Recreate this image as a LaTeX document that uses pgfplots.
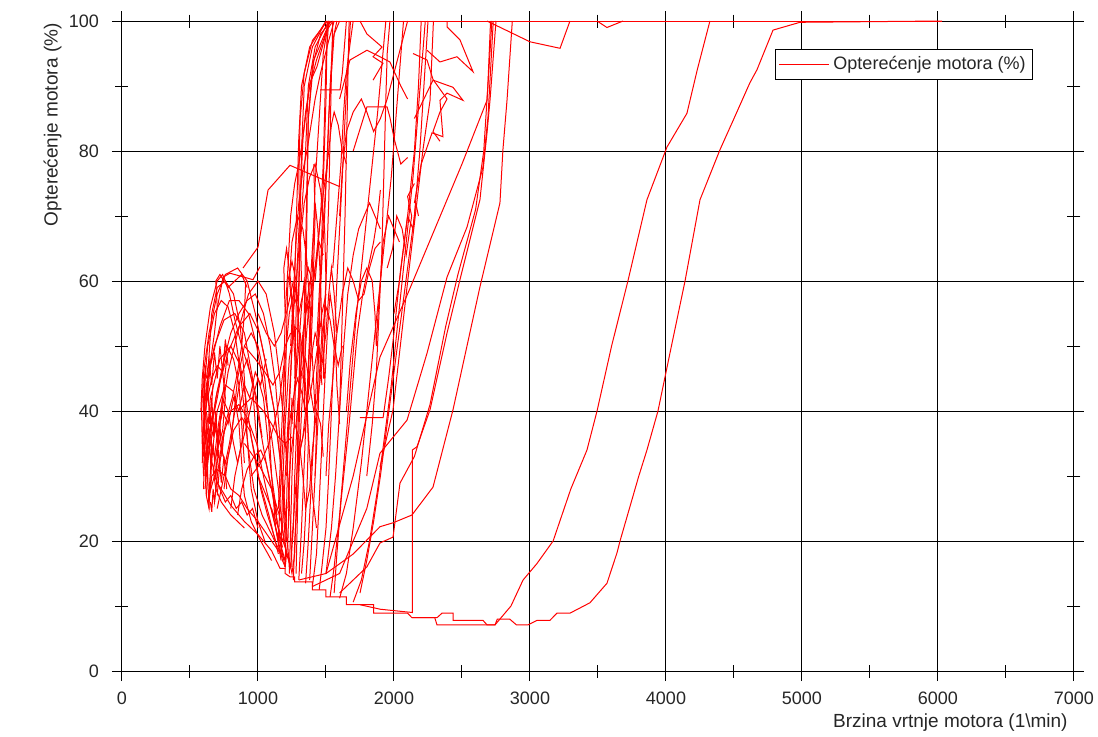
\documentclass[border=0pt]{standalone}
\usepackage{fontspec}
\setmainfont{Liberation Sans}
\usepackage{pgfplots}
\pgfplotsset{compat=1.18}
\pgfplotsset{tr/.style={red, line width=0.5pt, mark=none, forget plot}}

\begin{document}
\begin{tikzpicture}
\begin{axis}[
    at={(0,0)}, anchor=south west,
    width=476pt, height=325pt, scale only axis,
    xmin=0, xmax=7000, ymin=0, ymax=100,
    clip=false,
    xtick={0,1000,...,7000}, ytick={0,20,...,100},
    minor x tick num=1, minor y tick num=1,
    /pgf/number format/assume math mode=true,
    /pgf/number format/1000 sep={},
    tick align=center,
    major tick length=10pt, minor tick length=6.5pt,
    tick style={black, line width=0.5pt},
    grid=major,
    major grid style={black, line width=0.5pt},
    axis line style={black, line width=0.5pt},
    ticklabel style={font=\fontsize{9}{10}\selectfont, text=black!85},
    xticklabel style={yshift=-2pt},
    yticklabel style={xshift=-3pt},
    xlabel={Brzina vrtnje motora (1\textbackslash min)},
    ylabel={Opterećenje motora (\%)},
    label style={font=\fontsize{9.5}{11}\selectfont, text=black!85, inner sep=0pt},
    xlabel style={at={([xshift=-3pt,yshift=-21pt]axis description cs:1,0)}, anchor=north east},
    ylabel style={at={([xshift=-30pt,yshift=-1pt]axis description cs:0,1)}, anchor=south east},
    legend style={at={(axis description cs:0.957,0.957)}, anchor=north east,
        draw=black, line width=0.5pt, fill=white, inner sep=1.5pt,
        font=\fontsize{9}{10}\selectfont, text=black!85},
    legend image code/.code={\draw[red, line width=0.5pt] (0pt,0pt) -- (25pt,0pt);},
]
% lower envelope and the far right curve
\addplot[red, line width=0.5pt, mark=none] coordinates {(600,38) (650,33) (700,29) (800,25.5) (900,23) (1000,21) (1100,18.5) (1162,15.8) (1200,15.8) (1200,15) (1235,14.5) (1270,14.5) (1270,13.7) (1309,13.7) (1400,13.7) (1400,12.5) (1434,12.5) (1500,12.5) (1500,11.4) (1529,11.4) (1650,11.4) (1650,10.2) (1750,10.2) (1850,10.2) (1850,8.9) (1897,8.9) (2100,8.9) (2132,8.2) (2300,8.2) (2316,7.1) (2743,7.1) (2760,8) (2850,8) (2900,7.1) (2985,7.1) (3052,7.8) (3147,7.8) (3198,8.9) (3294,8.9) (3441,10.5) (3566,13.5) (3640,18.2) (3662,20) (3800,30) (3860,34) (3941,40) (4040,50) (4140,60) (4250,72.5) (4397,80.2) (4500,85) (4617,90.5) (4669,92.5) (4787,98.6) (4985,99.8) (6030,100)};
\addlegendentry{Opterećenje motora (\%)}
\addplot[tr] coordinates {(2132,8.2) (2316,8.2) (2353,8.9) (2434,8.9) (2434,7.8) (2654,7.8) (2684,7.1) (2743,7.1) (2860,10) (2949,14) (3050,16.5) (3170,20) (3300,28) (3419,34) (3493,40) (3600,50) (3720,60) (3860,72.5) (4007,80.6) (4154,85.8) (4230,92.5) (4323,100)};
\addplot[tr] coordinates {(1550,100) (6030,100)};
\addplot[tr] coordinates {(2684,100) (3000,96.8) (3221,95.8) (3294,100)};
\addplot[tr] coordinates {(3493,100) (3566,99) (3684,100)};
% wide curves 2000-2900
\addplot[tr] coordinates {(1750,10.2) (1900,9.5) (2135,9) (2135,34) (2169,34.5) (2265,40.2) (2390,52) (2485,60.2) (2632,72.5) (2684,82.8) (2706,87.8) (2750,100)};
\addplot[tr] coordinates {(1300,14) (1500,15) (1700,18) (1897,22.2) (1993,22.8) (2132,24) (2287,28.3) (2434,40.2) (2632,59.1) (2779,72) (2801,80.2) (2831,87.8) (2870,100)};
\addplot[tr] coordinates {(1400,13) (1600,15) (1800,25) (1897,33.5) (2096,38.6) (2243,48.9) (2390,60.6) (2537,68.3) (2654,77.5) (2691,85.2) (2730,100)};
\addplot[tr] coordinates {(1500,15) (1700,30) (1897,48.3) (2100,58) (2300,68) (2500,78) (2684,87.8) (2720,100)};
\addplot[tr] coordinates {(1600,12) (1800,16) (1897,19.7) (1993,20.6) (2044,28.9) (2150,33) (2265,41) (2380,53) (2470,61) (2600,71) (2660,80) (2690,90) (2710,100)};
\addplot[tr] coordinates {(1897,31.4) (1993,40.2) (2096,59.1) (2213,80.2) (2265,87.8) (2290,100)};
\addplot[tr] coordinates {(1750,39) (1920,39) (1960,45) (2000,52) (2050,62) (2100,70) (2150,80) (2180,90) (2200,100)};
% left cluster
\addplot[tr] coordinates {(600,30) (590,35) (585,40) (600,46) (640,52) (700,58) (760,61) (850,62) (920,60) (980,55) (1050,48) (1120,40) (1180,30) (1210,22) (1230,16)};
\addplot[tr] coordinates {(620,27) (610,32) (600,38) (620,44) (680,50) (750,54) (830,55) (900,52) (960,45) (1010,38) (1060,32) (1120,26) (1170,19) (1200,16)};
\addplot[tr] coordinates {(640,25) (630,30) (625,36) (650,42) (720,48) (800,50) (870,47) (910,42) (950,36) (1000,30) (1080,24) (1150,18)};
\addplot[tr] coordinates {(650,28) (660,33) (700,40) (760,44) (820,43) (860,38) (880,32) (900,27) (950,23) (1020,20) (1100,17)};
\addplot[tr] coordinates {(600,33) (610,39) (650,47) (720,53) (790,57) (860,57) (930,55) (990,50) (1040,44) (1100,36) (1150,28) (1190,20)};
\addplot[tr] coordinates {(680,26) (700,30) (740,36) (800,40) (860,41) (920,39) (990,35) (1060,28) (1130,22) (1200,17)};
\addplot[tr] coordinates {(590,36) (620,41) (660,45) (700,47) (740,46) (760,42) (740,37) (700,34) (670,31) (690,28) (730,26) (800,24) (900,22)};
\addplot[tr] coordinates {(700,25) (750,30) (800,35) (850,45) (900,50) (950,52) (1000,50) (1050,45) (1080,38) (1100,30) (1130,22) (1170,17)};
\addplot[tr] coordinates {(610,28) (640,34) (680,38) (720,35) (760,32) (790,35) (830,40) (870,45) (920,48) (960,44) (980,38) (1010,32)};
\addplot[tr] coordinates {(620,42) (660,55) (700,59) (760,60) (820,58) (870,53) (900,45) (920,36) (950,28) (1000,23) (1050,20)};
\addplot[tr] coordinates {(700,33) (720,38) (780,46) (850,52) (930,58) (1000,60) (1060,58) (1120,52) (1160,45) (1190,38) (1220,30) (1240,22) (1250,16)};
\addplot[tr] coordinates {(750,28) (780,33) (820,37) (880,39) (940,37) (980,33) (1020,28) (1070,24) (1130,20)};
\addplot[tr] coordinates {(600,31) (640,36) (700,42) (770,50) (820,48) (860,44) (880,38) (900,32)};
\addplot[tr] coordinates {(650,37) (700,43) (780,49) (860,53) (940,55) (1010,52) (1070,46) (1120,40) (1160,33) (1190,26) (1210,20)};
\addplot[tr] coordinates {(600,28) (605,33) (595,36) (610,40) (600,44) (615,47) (605,42) (620,38) (610,34) (630,30) (620,27) (640,25) (645,29) (660,34) (650,39) (670,44)};
\addplot[tr] coordinates {(640,26) (660,30) (700,31) (760,30) (800,28) (860,27) (920,25) (1000,23) (1100,20) (1200,17)};
\addplot[tr] coordinates {(580,40) (590,45) (610,50) (650,56) (700,60) (740,61) (760,60) (790,58) (830,54) (880,50) (940,46) (990,42) (1030,36)};
\addplot[tr] coordinates {(610,30) (625,35) (615,40) (630,44) (645,38) (660,42) (675,36) (690,40) (705,34) (720,38) (735,33) (750,37)};
\addplot[tr] coordinates {(600,35) (620,32) (640,37) (655,31) (670,35) (690,30) (710,34) (730,29) (750,33) (770,28)};
\addplot[tr] coordinates {(620,45) (640,48) (660,44) (680,49) (700,45) (720,50) (740,46) (760,51) (780,47)};
\addplot[tr] coordinates {(650,26) (660,24.5) (670,28) (680,26) (700,30) (690,33) (710,36) (730,40) (750,44) (770,48)};
\addplot[tr] coordinates {(698,55.5) (743,60.6) (794,61.2) (963,60.2) (1015,62.2)};
\addplot[tr] coordinates {(590,32) (600,42) (630,50) (680,55) (730,57) (780,56) (830,52) (870,46) (900,40) (930,34) (970,28) (1030,24) (1100,21) (1170,18)};
\addplot[tr] coordinates {(620,30) (650,36) (690,42) (740,47) (800,52) (860,55) (920,57) (980,58) (1040,55) (1090,50) (1130,44) (1160,36) (1180,28) (1200,20)};
\addplot[tr] coordinates {(700,27) (720,32) (760,38) (810,42) (850,46) (880,50) (900,55) (910,60)};
\addplot[tr] coordinates {(800,25) (830,30) (870,34) (920,38) (960,42) (1000,45) (1040,42) (1070,36) (1100,30) (1140,24)};
\addplot[tr] coordinates {(850,24) (880,28) (920,31) (970,33) (1020,34) (1060,32) (1100,28) (1140,23) (1180,19)};
\addplot[tr] coordinates {(620,34) (660,39) (700,36) (740,40) (780,38) (820,42) (860,40) (900,44) (940,42) (980,46) (1020,44) (1060,48)};
\addplot[tr] coordinates {(600,40) (640,46) (680,52) (700,56) (690,60) (720,61) (780,59) (830,60) (880,61) (920,59)};
\addplot[tr] coordinates {(640,27) (680,30) (720,28) (760,26) (800,27) (840,25) (880,26) (920,24) (960,25) (1000,22)};
\addplot[tr] coordinates {(620,40) (650,35) (680,33) (710,38) (740,42) (780,40) (820,35) (850,32) (880,35) (900,39)};
% between the cluster and the band
\addplot[tr] coordinates {(900,50) (980,48) (1050,46) (1110,44) (1160,46) (1200,50) (1240,52)};
\addplot[tr] coordinates {(850,40) (950,42) (1040,40) (1100,38) (1150,36) (1200,35) (1250,36)};
\addplot[tr] coordinates {(1000,55) (1060,52) (1120,50) (1170,52) (1220,56) (1260,60)};
\addplot[tr] coordinates {(950,30) (1020,32) (1080,35) (1120,38) (1160,42) (1190,47)};
% dense band 1150-1500
\addplot[tr] coordinates {(1100,25) (1150,20) (1180,17) (1200,16) (1220,20) (1230,28) (1240,36) (1250,42)};
\addplot[tr] coordinates {(1000,30) (1080,26) (1150,22) (1200,19) (1230,17) (1250,15) (1270,18) (1280,25) (1290,33) (1300,42) (1310,52)};
\addplot[tr] coordinates {(900,35) (1000,32) (1100,28) (1170,23) (1210,18) (1240,16) (1260,22) (1270,30) (1290,40) (1320,48) (1350,55) (1380,60)};
\addplot[tr] coordinates {(1200,16) (1210,25) (1220,35) (1240,45) (1260,55) (1290,62) (1320,70) (1350,80) (1370,90) (1420,96) (1520,100)};
\addplot[tr] coordinates {(1230,15) (1240,22) (1250,30) (1270,40) (1280,48) (1260,55) (1230,60) (1250,66) (1290,70) (1330,68) (1360,63) (1380,56) (1400,48) (1420,40)};
\addplot[tr] coordinates {(1170,18) (1180,28) (1200,38) (1230,48) (1270,53) (1310,52) (1340,47) (1360,40) (1380,33) (1400,27) (1430,22)};
\addplot[tr] coordinates {(1260,14) (1270,20) (1300,30) (1320,40) (1350,50) (1380,58) (1400,65) (1420,72) (1440,68) (1460,60) (1470,52) (1490,45)};
\addplot[tr] coordinates {(1300,14) (1320,22) (1340,32) (1360,42) (1380,52) (1400,62) (1420,75) (1450,85) (1480,95) (1520,100)};
\addplot[tr] coordinates {(1180,40) (1200,48) (1230,55) (1260,58) (1290,56) (1310,50) (1300,43) (1280,38) (1300,33) (1330,36) (1360,42) (1390,48) (1420,52) (1450,50) (1470,44)};
\addplot[tr] coordinates {(1250,38) (1270,44) (1290,50) (1300,58) (1310,66) (1340,72) (1380,76) (1420,78) (1460,74) (1490,68) (1500,60) (1480,52) (1460,46)};
\addplot[tr] coordinates {(1350,13.5) (1370,20) (1390,28) (1410,36) (1430,45) (1450,55) (1470,63) (1490,70) (1510,80) (1530,90) (1550,97) (1580,100)};
\addplot[tr] coordinates {(1400,13) (1430,18) (1450,26) (1470,35) (1490,44) (1510,52) (1530,58) (1550,55) (1570,50) (1580,44) (1600,38)};
\addplot[tr] coordinates {(1150,20) (1170,30) (1200,42) (1210,52) (1220,60) (1250,63) (1280,60) (1300,55) (1330,58) (1370,62) (1400,60)};
\addplot[tr] coordinates {(1300,40) (1320,46) (1350,48) (1380,44) (1410,40) (1440,42) (1470,47) (1500,52) (1520,58) (1540,62) (1560,58) (1580,52)};
\addplot[tr] coordinates {(1220,25) (1240,33) (1270,38) (1300,36) (1330,30) (1350,25) (1380,28) (1400,34) (1430,40) (1460,38) (1480,33)};
\addplot[tr] coordinates {(1330,45) (1340,55) (1350,65) (1360,75) (1370,85) (1400,93) (1460,98) (1540,100)};
\addplot[tr] coordinates {(1320,60) (1310,68) (1300,76) (1310,85) (1340,92) (1400,97) (1510,100)};
\addplot[tr] coordinates {(1430,50) (1450,58) (1470,66) (1490,72) (1510,78) (1520,85) (1540,92) (1560,98) (1600,100)};
\addplot[tr] coordinates {(1250,20) (1270,26) (1290,32) (1320,35) (1350,38) (1380,45) (1400,55) (1410,63) (1420,70) (1410,78)};
\addplot[tr] coordinates {(1450,12.5) (1470,16) (1500,22) (1520,30) (1540,40) (1560,50) (1580,60) (1600,68) (1620,76) (1640,85) (1660,93) (1680,100)};
\addplot[tr] coordinates {(1290,50) (1300,60) (1310,70) (1320,80) (1340,90) (1400,96) (1500,100)};
\addplot[tr] coordinates {(1340,40) (1350,55) (1360,70) (1370,85) (1410,94) (1530,100)};
\addplot[tr] coordinates {(1480,45) (1500,60) (1520,72) (1530,82) (1540,92) (1550,100)};
\addplot[tr] coordinates {(1420,30) (1440,45) (1460,60) (1480,75) (1500,88) (1510,100)};
\addplot[tr] coordinates {(1600,40) (1620,55) (1640,70) (1650,80) (1660,90) (1670,100)};
\addplot[tr] coordinates {(1150,25) (1170,35) (1190,45) (1200,55) (1190,62) (1210,65) (1240,60) (1260,52) (1280,45) (1300,50) (1320,56) (1340,60) (1370,55) (1390,50)};
\addplot[tr] coordinates {(1280,15) (1290,24) (1300,35) (1310,45) (1330,52) (1360,56) (1390,58) (1420,62) (1450,66) (1480,64)};
\addplot[tr] coordinates {(1210,30) (1230,38) (1260,42) (1290,45) (1320,43) (1350,40) (1380,42) (1410,46) (1440,50) (1470,55) (1500,58)};
\addplot[tr] coordinates {(1320,15) (1340,20) (1360,28) (1370,35) (1360,42) (1380,50) (1400,58) (1430,64) (1460,70) (1480,78) (1490,86) (1500,94) (1520,100)};
\addplot[tr] coordinates {(1240,50) (1260,58) (1280,66) (1300,72) (1330,77) (1360,80) (1390,84) (1420,88) (1460,92) (1520,97) (1560,100)};
\addplot[tr] coordinates {(1380,14) (1400,22) (1420,30) (1440,38) (1450,45) (1470,52) (1500,56) (1530,54) (1560,50) (1590,47) (1620,50)};
\addplot[tr] coordinates {(1180,22) (1200,30) (1230,42) (1250,50) (1270,60) (1280,68) (1290,75) (1300,82) (1320,90) (1380,96) (1500,100)};
\addplot[tr] coordinates {(1420,60) (1440,65) (1460,70) (1490,75) (1520,80) (1540,84) (1560,86) (1590,84) (1620,80) (1650,78)};
\addplot[tr] coordinates {(1200,55) (1220,62) (1240,70) (1270,75) (1300,78) (1330,82) (1350,86) (1380,90) (1430,94) (1530,100)};
% band 1500-2300
\addplot[tr] coordinates {(1530,11.4) (1560,16) (1600,24) (1640,34) (1680,44) (1720,54) (1760,62) (1800,70) (1840,78) (1880,86) (1910,93) (1940,100)};
\addplot[tr] coordinates {(1600,11.2) (1650,15) (1700,22) (1760,32) (1810,42) (1860,52) (1900,60) (1940,68) (1980,76) (2010,84) (2040,92) (2070,100)};
\addplot[tr] coordinates {(1700,10.6) (1760,14) (1820,20) (1880,28) (1930,36) (1980,44) (2020,52) (2060,60) (2100,68) (2140,76) (2170,84) (2200,92) (2230,100)};
\addplot[tr] coordinates {(1500,15) (1540,22) (1570,30) (1600,40) (1630,50) (1660,58) (1700,64) (1740,68) (1780,70) (1820,72) (1860,70) (1900,68)};
\addplot[tr] coordinates {(1650,40) (1680,48) (1720,55) (1760,60) (1800,62) (1840,60) (1860,55) (1870,50) (1880,54) (1900,60) (1920,66) (1960,70) (2000,68) (2040,66)};
\addplot[tr] coordinates {(1800,30) (1840,38) (1870,46) (1890,55) (1910,64) (1920,72) (1930,80) (1940,88) (1950,95) (1970,100)};
\addplot[tr] coordinates {(1600,70) (1620,77) (1650,83) (1700,86) (1760,88) (1800,86) (1850,83) (1900,85) (1950,88) (2000,92) (2050,96) (2100,100)};
\addplot[tr] coordinates {(1750,12) (1800,17) (1850,23) (1900,30) (1950,38) (2000,46) (2050,54) (2100,62) (2150,70) (2190,80) (2220,90) (2250,100)};
\addplot[tr] coordinates {(1550,62) (1580,70) (1610,78) (1630,86) (1650,92) (1680,97) (1700,100)};
\addplot[tr] coordinates {(1500,30) (1520,38) (1550,45) (1580,52) (1620,58) (1660,62) (1700,60) (1740,57) (1780,58) (1820,62) (1860,65) (1900,66)};
\addplot[tr] coordinates {(1560,12) (1580,18) (1610,26) (1640,32) (1670,38) (1700,45) (1730,52) (1770,58) (1810,62) (1850,66) (1880,70) (1900,74)};
\addplot[tr] coordinates {(1950,62) (1990,65) (2020,70) (2060,68) (2090,64) (2110,67) (2130,70) (2100,73) (2150,75)};
\addplot[tr] coordinates {(2000,55) (2040,60) (2070,65) (2100,70) (2140,68) (2160,72) (2180,70)};
% upper tangle
\addplot[tr] coordinates {(890,62) (1000,65.2) (1074,74) (1235,77.8) (1434,76) (1603,74.5)};
\addplot[tr] coordinates {(1270,45) (1287,62) (1309,71.4) (1331,82.2) (1382,90.5) (1434,93) (1507,98.6) (1551,100)};
\addplot[tr] coordinates {(2243,95.5) (2338,93.7) (2463,94.5) (2581,92.2) (2485,97.1) (2390,99.1) (2390,100)};
\addplot[tr] coordinates {(2150,85) (2287,90.9) (2434,89.8) (2507,87.8) (2390,88.9) (2338,87.8) (2360,82.2) (2280,82.8) (2200,78) (2150,72)};
\addplot[tr] coordinates {(2140,95) (2243,94) (2287,91) (2390,88) (2338,86) (2287,83) (2338,81.5)};
\addplot[tr] coordinates {(1600,88) (1676,94) (1801,95.5) (1897,94.5) (1970,93.7) (2050,90) (2100,88)};
\addplot[tr] coordinates {(1700,80) (1801,86.8) (1949,86.8) (1970,85.2) (2000,82) (2050,78) (2100,79)};
\addplot[tr] coordinates {(1846,90.9) (1919,93.5) (1846,94.5) (1912,96) (1801,98) (1750,100)};
\addplot[tr] coordinates {(1456,89.4) (1603,89.4) (1620,92) (1650,100)};
\end{axis}
\pgfresetboundingbox
\path[use as bounding box] (-61pt,-32.5pt) rectangle (488pt,335.5pt);
\end{tikzpicture}
\end{document}
